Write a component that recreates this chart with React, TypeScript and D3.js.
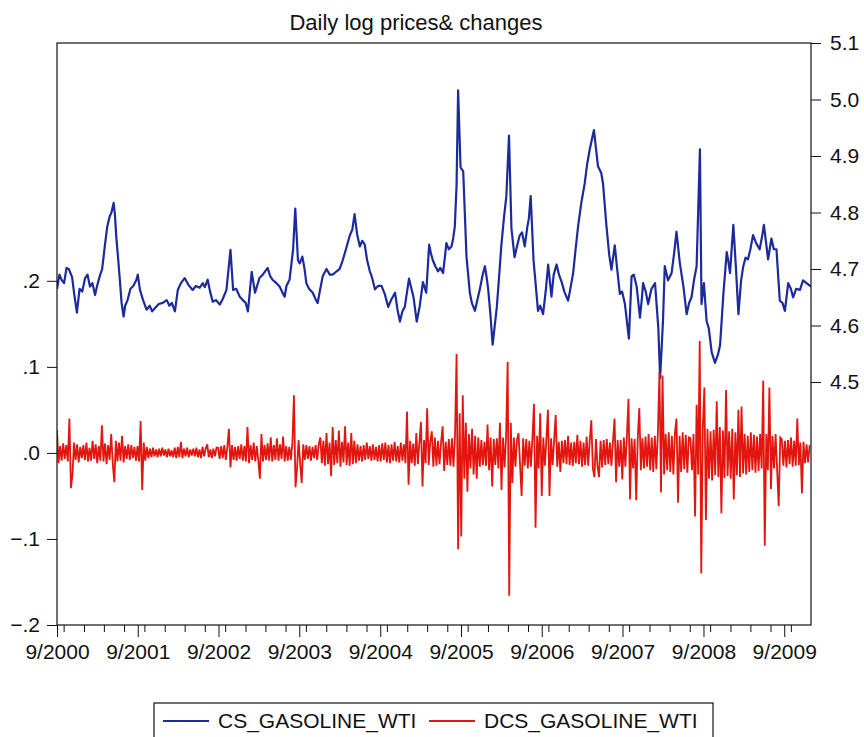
import React, { useRef, useEffect } from 'react';
import * as d3 from 'd3';

// CS_GASOLINE_WTI (log price, right axis)
const csDates = [
  '2000-09-01','2000-09-23','2000-10-14','2000-11-08','2000-11-30',
  '2001-01-06','2001-01-28','2001-02-20','2001-03-13','2001-04-05','2001-04-27','2001-05-15','2001-05-27','2001-06-12','2001-06-29','2001-07-17','2001-08-26','2001-09-11','2001-10-11','2001-11-18','2001-12-23',
  '2002-02-02','2002-02-16','2002-03-01','2002-04-01','2002-05-07','2002-06-08','2002-07-14','2002-08-06','2002-09-07','2002-10-07','2002-10-25','2002-11-06','2002-12-06',
  '2003-01-12','2003-01-29','2003-02-13','2003-03-05','2003-04-11','2003-05-03','2003-06-04','2003-06-27','2003-07-19','2003-08-04','2003-08-14','2003-08-26','2003-09-15','2003-10-03','2003-11-01','2003-11-23','2003-12-16',
  '2004-01-17','2004-02-17','2004-03-15','2004-04-16','2004-05-08','2004-06-01','2004-06-23','2004-07-16','2004-08-08','2004-09-07','2004-10-07','2004-11-07','2004-11-29','2004-12-21',
  '2005-01-09','2005-01-29','2005-02-13','2005-02-26','2005-03-13','2005-03-28','2005-04-10','2005-04-27','2005-05-20','2005-06-12','2005-06-27','2005-07-20','2005-08-04','2005-08-12','2005-08-19','2005-08-30','2005-09-11','2005-09-26','2005-10-11','2005-11-03','2005-11-25','2005-12-18',
  '2006-01-02','2006-01-22','2006-02-10','2006-03-02','2006-03-25','2006-04-06','2006-04-17','2006-05-01','2006-05-24','2006-06-16','2006-07-13','2006-07-26','2006-08-15','2006-09-07','2006-09-30','2006-10-15','2006-11-07','2006-11-30','2006-12-29',
  '2007-01-21','2007-02-13','2007-03-14','2007-04-06','2007-04-25','2007-05-13','2007-06-05','2007-06-20','2007-07-13','2007-07-28','2007-08-20','2007-09-12','2007-09-30','2007-10-12','2007-11-04','2007-11-19','2007-12-03','2007-12-26',
  '2008-01-26','2008-02-10','2008-02-18','2008-03-02','2008-03-10','2008-04-10','2008-05-02','2008-05-17','2008-06-17','2008-07-09','2008-08-01','2008-08-16','2008-08-23','2008-09-03','2008-09-15','2008-10-08','2008-10-23','2008-11-15','2008-11-30','2008-12-15','2008-12-30',
  '2009-01-14','2009-02-06','2009-02-28','2009-03-21','2009-04-13','2009-05-13','2009-06-01','2009-06-20','2009-07-05','2009-07-28','2009-08-12','2009-09-04','2009-09-19','2009-10-11','2009-11-11','2009-12-11','2009-12-31',
];
const csValues = [
  4.665,4.680,4.702,4.686,4.623,
  4.684,4.669,4.654,4.687,4.740,4.793,4.817,4.757,4.681,4.616,4.645,4.681,4.663,4.628,4.631,4.640,
  4.640,4.625,4.663,4.684,4.663,4.667,4.681,4.642,4.637,4.663,4.734,4.663,4.651,
  4.625,4.695,4.658,4.684,4.702,4.681,4.669,4.651,4.681,4.734,4.807,4.716,4.722,4.675,4.658,4.640,4.687,
  4.690,4.696,4.715,4.759,4.797,4.740,4.743,4.696,4.664,4.670,4.633,4.658,4.607,4.633,
  4.683,4.651,4.607,4.633,4.677,4.658,4.743,4.715,4.696,4.693,4.746,4.740,4.775,4.848,5.016,4.880,4.873,4.721,4.658,4.626,4.664,4.705,
  4.664,4.566,4.633,4.740,4.829,4.936,4.772,4.721,4.759,4.740,4.829,4.715,4.626,4.620,4.708,4.651,4.708,4.677,4.644,
  4.693,4.778,4.851,4.912,4.946,4.882,4.851,4.778,4.699,4.742,4.656,4.638,4.577,4.687,4.669,4.614,4.675,4.638,
  4.675,4.595,4.507,4.608,4.705,4.693,4.766,4.711,4.620,4.650,4.705,4.912,4.638,4.675,4.608,4.553,4.534,4.565,4.656,4.730,4.693,
  4.778,4.620,4.705,4.717,4.760,4.735,4.778,4.717,4.754,4.735,4.644,4.626,4.675,4.650,4.663,4.675,4.669,
];

// in-between wiggles of the same series, merged by date
const csExtraDates = [
  '2000-09-12','2000-10-03','2000-10-24','2000-11-18','2000-12-12','2000-12-24',
  '2001-01-17','2001-02-08','2001-03-01','2001-03-24','2001-04-16','2001-05-05','2001-05-21','2001-06-04','2001-06-20','2001-07-06','2001-07-30','2001-08-12','2001-09-01','2001-09-25','2001-10-25','2001-11-05','2001-12-05',
  '2002-01-10','2002-01-22','2002-03-15','2002-04-18','2002-05-22','2002-06-22','2002-07-01','2002-07-25','2002-08-20','2002-09-20','2002-11-20','2002-12-20',
  '2003-01-02','2003-02-24','2003-03-20','2003-04-22','2003-05-18','2003-06-15','2003-07-05','2003-09-03','2003-09-25','2003-10-15','2003-11-12','2003-12-05',
  '2004-01-02','2004-01-30','2004-03-01','2004-03-30','2004-04-28','2004-05-20','2004-06-12','2004-07-04','2004-07-26','2004-08-22','2004-09-22','2004-10-20','2004-11-18','2004-12-10',
  '2005-01-20','2005-03-20','2005-04-18','2005-05-08','2005-05-30','2005-06-20','2005-07-08','2005-07-28','2005-10-20','2005-11-14','2005-12-08','2005-12-26',
  '2006-01-12','2006-02-20','2006-03-14','2006-05-12','2006-06-04','2006-06-28','2006-07-05','2006-08-03','2006-08-25','2006-09-20','2006-10-25','2006-11-18','2006-12-12',
  '2007-01-06','2007-02-01','2007-02-28','2007-03-25','2007-05-28','2007-07-03','2007-08-08','2007-08-30','2007-10-22','2007-11-28','2007-12-15',
  '2008-01-10','2008-03-25','2008-04-22','2008-06-02','2008-06-28','2008-07-20','2008-09-25','2008-11-05','2008-12-22',
  '2009-01-26','2009-02-18','2009-03-10','2009-04-01','2009-04-28','2009-05-25','2009-06-10','2009-07-16','2009-08-01','2009-08-24','2009-10-01','2009-10-25','2009-11-25',
];
const csExtraValues = [
  4.690,4.675,4.700,4.655,4.665,4.660,
  4.690,4.675,4.670,4.700,4.775,4.800,4.795,4.720,4.640,4.635,4.665,4.670,4.690,4.645,4.635,4.625,4.638,
  4.645,4.635,4.675,4.672,4.670,4.675,4.668,4.660,4.645,4.647,4.665,4.645,
  4.640,4.672,4.690,4.688,4.676,4.660,4.670,4.710,4.700,4.665,4.648,4.665,
  4.700,4.690,4.700,4.735,4.770,4.760,4.750,4.715,4.685,4.670,4.655,4.645,4.628,4.625,
  4.665,4.668,4.728,4.705,4.702,4.720,4.735,4.755,4.640,4.645,4.690,4.685,
  4.620,4.685,4.790,4.740,4.765,4.775,4.790,4.680,4.635,4.665,4.690,4.690,4.660,
  4.660,4.735,4.820,4.885,4.870,4.725,4.700,4.660,4.690,4.650,4.660,
  4.665,4.680,4.730,4.670,4.640,4.680,4.595,4.548,4.715,
  4.700,4.680,4.720,4.735,4.745,4.760,4.750,4.735,4.710,4.640,4.665,4.665,4.680,
];

// DCS_GASOLINE_WTI (change, left axis), one value per week from the start, x1000
const dcsStart = '2000-09-01';
const dcsWeekly = [
  26,-12,8,-9,11,-7,9,-10,40,-41,-25,12,-8,10,-11,7,-6,9,-8,12,-10,6,-9,14,-7,10,-12,8,-9,32,-10,11,-13,9,-8,22,-12,-34,14,-10,12,-9,20,-11,8,-7,10,-8,9,-6,7,-9,
  8,-10,37,-43,12,-9,7,-6,5,-5,6,-4,4,-5,5,-4,6,-3,4,-5,5,-4,3,-5,6,-6,7,-5,13,-6,5,-4,6,-5,4,-3,5,-4,6,-5,4,-6,7,-4,5,10,-5,4,-6,5,-4,6,
  6,-7,8,-6,9,-8,7,28,-17,9,-8,7,-9,8,-7,10,-9,8,-10,30,-12,9,-8,12,-10,8,-9,-30,22,-10,9,-8,11,-9,18,-10,9,-8,17,-9,10,-7,19,-10,8,-9,7,-8,12,67,-40,-18,
  15,-12,-35,10,-8,9,-7,8,-9,7,-6,9,-8,10,18,-12,14,-15,23,-13,12,-27,30,-14,15,-12,26,-16,13,-11,31,-14,12,-15,23,-13,14,-12,10,-9,8,-10,9,-8,12,-7,8,-9,10,-8,7,-10,
  9,-10,11,-8,12,-11,9,-12,10,-9,13,-10,8,-11,12,-9,10,-12,48,-37,14,-12,11,-15,23,-13,12,36,-39,15,-12,52,-14,13,25,-16,18,-15,14,-13,12,31,-21,13,-14,16,-15,17,-16,20,115,-112,
  46,-97,67,-30,35,-45,22,-18,28,-25,20,-30,18,-16,15,-14,13,-15,33,-20,18,-39,16,-14,17,-18,35,-43,18,-17,20,106,-166,35,-35,18,-16,15,23,-14,-50,17,-15,16,-18,14,-16,18,57,-87,20,-18,
  46,-50,18,-15,16,50,-50,17,-14,15,44,-16,13,-22,14,-12,15,-13,20,-14,12,-15,13,-12,21,-13,14,-16,12,-14,19,-15,14,38,-18,-28,16,-15,-28,14,-17,15,-14,16,-13,12,-15,14,40,-34,15,-16,
  15,-31,18,-16,20,63,-54,17,-18,16,-55,18,52,-20,17,-18,19,-16,22,-20,18,-22,20,-19,24,94,-46,90,-25,22,-20,24,-22,20,-25,23,40,-58,20,-22,24,-19,21,-23,18,17,-20,22,-74,56,-25,130,
  -140,30,76,-78,28,-30,25,-32,27,-26,60,-28,30,-70,26,-29,73,-27,25,-30,28,-54,24,-26,50,-28,54,-24,22,-25,20,-22,24,-20,21,-23,19,-21,22,-18,84,-108,22,-20,76,-42,20,-18,22,-20,-62,18,
  16,-15,14,-17,15,-13,18,-16,14,-15,40,-14,12,-47,13,-12,10,-11,9,
];

const xStart = '2000-09-01';
const xEnd = '2009-12-31';
const yearTickLabels = ['9/2000','9/2001','9/2002','9/2003','9/2004','9/2005','9/2006','9/2007','9/2008','9/2009'];
const leftTicks = [-0.2, -0.1, 0, 0.1, 0.2];
const rightTicks = [4.5, 4.6, 4.7, 4.8, 4.9, 5.0, 5.1];
const leftDomain = [-0.2, 0.4764];
const rightDomain = [4.07, 5.1];

const BLUE = '#1c2a9c';
const RED = '#e3160f';
const FONT = 'Liberation Sans, Arial, sans-serif';

type Pt = { date: Date; value: number };

export default function App() {
  const ref = useRef<SVGSVGElement | null>(null);

  useEffect(() => {
    const svg = d3.select(ref.current);
    svg.selectAll('*').remove();

    const W = 864;
    const H = 737;
    const margin = { top: 43, right: 53, bottom: 112, left: 57 };
    const width = W - margin.left - margin.right;
    const height = H - margin.top - margin.bottom;

    const parse = d3.timeParse('%Y-%m-%d');
    const x = d3.scaleTime()
      .domain([parse(xStart)!, parse(xEnd)!])
      .range([0, width]);
    const yL = d3.scaleLinear().domain(leftDomain).range([height, 0]);
    const yR = d3.scaleLinear().domain(rightDomain).range([height, 0]);

    const cs: Pt[] = csDates.map((d, i) => ({ date: parse(d)!, value: csValues[i] }))
      .concat(csExtraDates.map((d, i) => ({ date: parse(d)!, value: csExtraValues[i] })))
      .sort((a, b) => +a.date - +b.date);
    const start = parse(dcsStart)!;
    const dcs: Pt[] = dcsWeekly.map((v, i) => ({ date: d3.timeDay.offset(start, i * 7), value: v / 1000 }));

    svg.attr('width', W).attr('height', H);

    // Title
    svg.append('text')
      .attr('x', 416)
      .attr('y', 30)
      .attr('text-anchor', 'middle')
      .attr('font-family', FONT)
      .attr('font-size', 22)
      .attr('fill', '#111')
      .text('Daily log prices& changes');

    const chart = svg.append('g')
      .attr('transform', `translate(${margin.left},${margin.top})`);

    chart.append('clipPath').attr('id', 'plot-clip')
      .append('rect').attr('width', width).attr('height', height);

    const plot = chart.append('g').attr('clip-path', 'url(#plot-clip)');

    plot.append('path')
      .datum(cs)
      .attr('fill', 'none')
      .attr('stroke', BLUE)
      .attr('stroke-width', 2.2)
      .attr('stroke-linejoin', 'round')
      .attr('d', d3.line<Pt>().x(d => x(d.date)).y(d => yR(d.value)));

    plot.append('path')
      .datum(dcs)
      .attr('fill', 'none')
      .attr('stroke', RED)
      .attr('stroke-width', 1.8)
      .attr('d', d3.line<Pt>().x(d => x(d.date)).y(d => yL(d.value)));

    // Frame
    chart.append('rect')
      .attr('width', width)
      .attr('height', height)
      .attr('fill', 'none')
      .attr('stroke', '#111')
      .attr('stroke-width', 1.2);

    const styleAxis = (g: d3.Selection<SVGGElement, unknown, null, undefined>) => {
      g.select('.domain').remove();
      g.selectAll('line').attr('stroke', '#111');
      g.selectAll('text').attr('fill', '#111').attr('font-size', 21).attr('font-family', FONT);
    };

    const fmt = (d: number) => d3.format('.1f')(d).replace('0.', '.');

    chart.append('g')
      .call(d3.axisLeft(yL).tickValues(leftTicks).tickSize(10).tickPadding(7).tickFormat(d => fmt(+d)))
      .call(styleAxis);

    chart.append('g')
      .attr('transform', `translate(${width},0)`)
      .call(d3.axisRight(yR).tickValues(rightTicks).tickSize(10).tickPadding(9).tickFormat(d3.format('.1f')))
      .call(styleAxis);

    // Bottom axis: yearly major ticks, quarterly minor ticks
    const majors = yearTickLabels.map(s => {
      const [m, y] = s.split('/');
      return new Date(+y, +m - 1, 1);
    });
    const minors = d3.timeMonth.every(3)!.range(x.domain()[0], x.domain()[1])
      .filter(d => d.getMonth() !== 8);

    chart.append('g')
      .attr('transform', `translate(0,${height})`)
      .call(d3.axisBottom(x).tickValues(minors).tickSize(7).tickFormat(() => ''))
      .call(styleAxis);

    chart.append('g')
      .attr('transform', `translate(0,${height})`)
      .call(d3.axisBottom(x).tickValues(majors).tickSize(12).tickPadding(7)
        .tickFormat((d, i) => yearTickLabels[i]))
      .call(styleAxis);

    // Legend
    const lg = svg.append('g');
    lg.append('rect')
      .attr('x', 154).attr('y', 703)
      .attr('width', 559).attr('height', 44)
      .attr('fill', 'none').attr('stroke', '#111').attr('stroke-width', 1.2);
    const items = [
      { label: 'CS_GASOLINE_WTI', color: BLUE, x: 163 },
      { label: 'DCS_GASOLINE_WTI', color: RED, x: 429 },
    ];
    items.forEach(it => {
      lg.append('line')
        .attr('x1', it.x).attr('x2', it.x + 46)
        .attr('y1', 721).attr('y2', 721)
        .attr('stroke', it.color).attr('stroke-width', 1.8);
      lg.append('text')
        .attr('x', it.x + 55).attr('y', 728)
        .attr('font-family', FONT).attr('font-size', 21).attr('fill', '#111')
        .text(it.label);
    });
  }, []);

  return <svg ref={ref} style={{ position: 'absolute', left: 0, top: 0, background: '#fff' }} />;
}
